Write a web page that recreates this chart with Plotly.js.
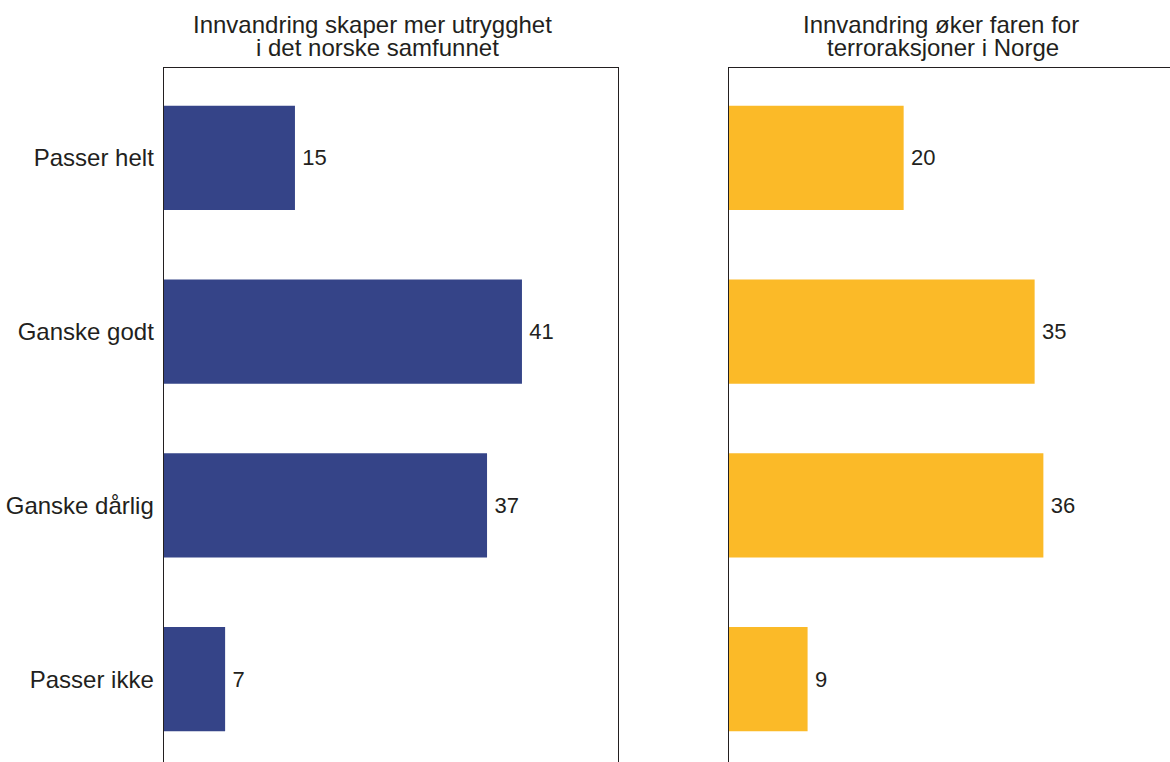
<!DOCTYPE html>
<html>
<head>
<meta charset="utf-8">
<script src="https://cdn.plot.ly/plotly-3.0.1.min.js"></script>
<style>html,body{margin:0;padding:0;background:#fff;}#chart{width:1170px;height:762px;}</style>
</head>
<body>
<div id="chart"></div>
<script>
const categories = ["Passer helt", "Ganske godt", "Ganske dårlig", "Passer ikke"];
const utrygghetValues = [15, 41, 37, 7];
const terrorValues = [20, 35, 36, 9];
const titleLeftLines = ["Innvandring skaper mer utrygghet", "i det norske samfunnet"];
const titleRightLines = ["Innvandring øker faren for", "terroraksjoner i Norge"];

const FONT = "Liberation Sans, Arial, sans-serif";
const INK = "#231f20";

function barTrace(vals, color, xa, ya) {
  return {
    type: "bar", orientation: "h",
    x: vals, y: categories,
    xaxis: xa, yaxis: ya,
    marker: {color: color},
    width: 0.6,
    text: vals.map(v => "\u2009" + v),
    textposition: "outside",
    textfont: {family: FONT, size: 22, color: INK},
    cliponaxis: false,
    hoverinfo: "x+y"
  };
}

const traces = [
  barTrace(utrygghetValues, "#354488", "x", "y"),
  barTrace(terrorValues, "#fbba28", "x2", "y2")
];

const W = 1170, H = 762, T = 68;
const ph = H - T;
function py(px) { return 1 - (px - T) / ph; }

function titleAnn(text, cx, cy) {
  return {text: text, xref: "paper", yref: "paper", x: cx / W, y: py(cy),
    xanchor: "center", yanchor: "middle", showarrow: false, align: "center",
    font: {family: FONT, size: 24, color: INK}};
}

const layout = {
  width: W, height: H,
  margin: {l: 0, r: 0, t: T, b: 0},
  paper_bgcolor: "#fff", plot_bgcolor: "#fff",
  showlegend: false,
  font: {family: FONT, color: INK, size: 22},
  xaxis: {
    domain: [164/W, 618/W], range: [0, 52], side: "top",
    showline: true, linecolor: INK, linewidth: 1.4, mirror: false,
    showgrid: false, zeroline: false, showticklabels: false, ticks: "", fixedrange: true
  },
  yaxis: {
    anchor: "x", range: [3.477, -0.517], type: "category",
    showline: true, linecolor: INK, linewidth: 1.4, mirror: true,
    showgrid: false, zeroline: false,
    ticks: "outside", ticklen: 4, tickcolor: "rgba(0,0,0,0)",
    tickfont: {family: FONT, size: 24, color: INK}, fixedrange: true
  },
  xaxis2: {
    domain: [729/W, 1], range: [0, 50.5], side: "top", anchor: "y2",
    showline: true, linecolor: INK, linewidth: 1.4, mirror: false,
    showgrid: false, zeroline: false, showticklabels: false, ticks: "", fixedrange: true
  },
  yaxis2: {
    anchor: "x2", range: [3.477, -0.517], type: "category",
    showline: true, linecolor: INK, linewidth: 1.4, mirror: false,
    showgrid: false, zeroline: false, showticklabels: false, ticks: "", fixedrange: true
  },
  annotations: [
    titleAnn(titleLeftLines[0], 372, 25),
    titleAnn(titleLeftLines[1], 377, 48),
    titleAnn(titleRightLines[0], 941, 25),
    titleAnn(titleRightLines[1], 943, 48)
  ]
};

Plotly.newPlot("chart", traces, layout, {displayModeBar: false, staticPlot: true});
</script>
</body>
</html>
